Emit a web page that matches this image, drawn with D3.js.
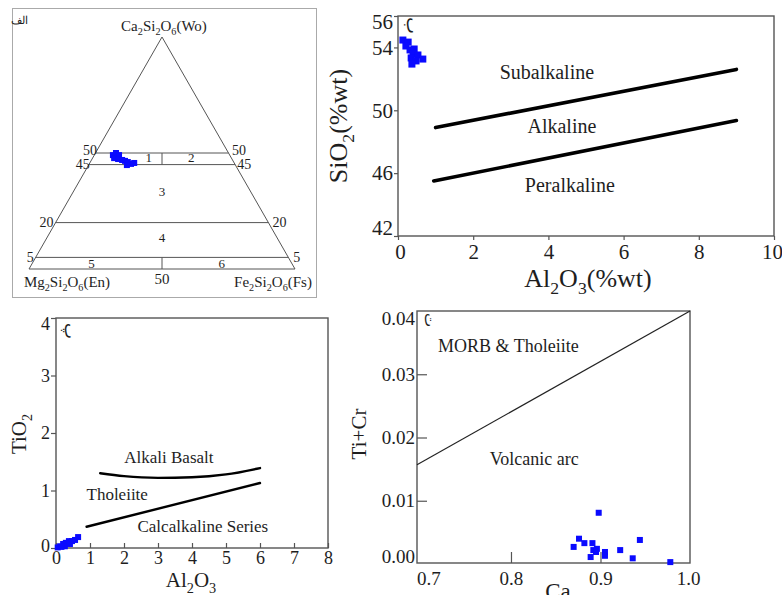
<!DOCTYPE html>
<html><head><meta charset="utf-8">
<script src="https://cdn.jsdelivr.net/npm/d3@7"></script>
<style>
body{margin:0;background:#fff}
svg{display:block}
text{font-family:"Liberation Serif","Times New Roman",serif;fill:#1e1e1e}
</style>
</head><body>
<svg id="c" width="782" height="595"></svg>
<script>
// ---------- DATA ----------
// Panel A: pyroxene ternary (Wo, En, Fs in %)
const ternWo = [49.1, 50.0, 49.1, 47.8, 47.4, 47.0, 46.6, 46.1, 45.3, 45.7, 44.8];
const ternFs = [7.0, 7.7, 9.3, 8.1, 9.8, 11.5, 12.8, 14.1, 15.7, 16.7, 14.4];
const ternEn = ternWo.map((w, i) => 100 - w - ternFs[i]);
const ternLevels = [50, 45, 20, 5];
const ternRegions = ["1", "2", "3", "4", "5", "6"];

// Panel B: SiO2 vs Al2O3
const bAl = [0.13, 0.27, 0.21, 0.32, 0.43, 0.40, 0.53, 0.35, 0.48, 0.66, 0.37];
const bSi = [54.47, 54.34, 54.09, 53.84, 53.90, 53.58, 53.52, 53.33, 53.14, 53.26, 52.94];
const bLineUpper = [[1.0, 48.9], [9.0, 52.6]];
const bLineLower = [[0.95, 45.5], [9.0, 49.35]];
const bXTicks = [0, 2, 4, 6, 8, 10];
const bYTicks = [42, 46, 50, 54, 56];
const bLabels = ["Subalkaline", "Alkaline", "Peralkaline"];

// Panel C: TiO2 vs Al2O3
const cAl = [0.12, 0.21, 0.29, 0.38, 0.47, 0.56, 0.65, 0.26, 0.41, 0.05, 0.16];
const cTi = [0.03, 0.07, 0.09, 0.12, 0.12, 0.14, 0.19, 0.03, 0.07, 0.01, 0.02];
const cCurveAlk = [[1.3, 1.3], [2.0, 1.25], [3.0, 1.22], [4.0, 1.23], [5.0, 1.28], [6.0, 1.39]];
const cLineCalc = [[0.9, 0.37], [6.0, 1.13]];
const cXTicks = [0, 1, 2, 3, 4, 5, 6, 7, 8];
const cYTicks = [0, 1, 2, 3, 4];
const cLabels = ["Alkali Basalt", "Tholeiite", "Calcalkaline Series"];

// Panel D: Ti+Cr vs Ca
const dCa = [0.870, 0.876, 0.882, 0.891, 0.892, 0.889, 0.896, 0.898, 0.905, 0.905, 0.922, 0.936, 0.944, 0.978, 0.895];
const dTiCr = [0.0027, 0.0040, 0.0033, 0.0033, 0.0022, 0.0011, 0.0024, 0.0081, 0.0019, 0.0013, 0.0022, 0.0009, 0.0038, 0.0003, 0.0019];
const dLine = [[0.695, 0.0157], [1.0, 0.04]];
const dXTicks = [0.7, 0.8, 0.9, 1.0];
const dYTicks = [0, 0.01, 0.02, 0.03, 0.04];
const dLabels = ["MORB & Tholeiite", "Volcanic arc"];

// ---------- HELPERS ----------
const svg = d3.select("#c");
const BLUE = "#0a0aff";
const FRAME = "#555";

function rich(g, str, x, y, size, anchor, rotate) {
  const t = g.append("text").attr("font-size", size).attr("text-anchor", anchor || "middle");
  if (rotate) t.attr("transform", `translate(${x},${y}) rotate(${rotate})`);
  else t.attr("x", x).attr("y", y);
  const parts = str.split(/(\{[^}]*\})/).filter(s => s.length);
  let shifted = false;
  const off = size * 0.28;
  parts.forEach(p => {
    if (p[0] === "{") {
      t.append("tspan").text(p.slice(1, -1)).attr("font-size", size * 0.68).attr("dy", shifted ? 0 : off);
      shifted = true;
    } else {
      t.append("tspan").text(p).attr("dy", shifted ? -off : 0);
      shifted = false;
    }
  });
  return t;
}
function styleAxis(g, size) {
  g.select(".domain").remove();
  g.selectAll(".tick line").attr("stroke", FRAME).attr("stroke-width", 1.2);
  g.selectAll(".tick text").attr("font-size", size).attr("fill", "#1e1e1e")
    .attr("font-family", '"Liberation Serif","Times New Roman",serif');
}

// ---------- PANEL A (ternary) ----------
(function () {
  const g = svg.append("g");
  g.append("rect").attr("x", 12.5).attr("y", 8.5).attr("width", 304).attr("height", 289)
    .attr("fill", "none").attr("stroke", "#aaa").attr("stroke-width", 1);
  const tx = d3.scaleLinear().domain([0, 100]).range([29, 295]);
  const ty = d3.scaleLinear().domain([0, 100]).range([269, 37]);
  const P = (wo, fs) => [tx(fs + wo / 2), ty(wo)];
  const line = d3.line();
  g.append("path").attr("d", line([P(100, 0), P(0, 0), P(0, 100), P(100, 0)]))
    .attr("fill", "none").attr("stroke", "#555").attr("stroke-width", 1);
  // label offsets per level: [left dx, right dx, dy]
  const off = {50: [1.5, 3.5, 1.5], 45: [1, 2, 4.5], 20: [-2, 4, 4.5], 5: [-2, 5, 5]};
  ternLevels.forEach(w => {
    const a = P(w, 0), b = P(w, 100 - w);
    const o = off[w];
    g.append("path").attr("d", line([a, b])).attr("stroke", "#555").attr("stroke-width", 1);
    g.append("text").attr("x", a[0] + o[0]).attr("y", a[1] + o[2]).attr("text-anchor", "end").attr("font-size", 14).text(w);
    g.append("text").attr("x", b[0] + o[1]).attr("y", b[1] + o[2]).attr("text-anchor", "start").attr("font-size", 14).text(w);
  });
  // vertical dividers at Fs = En
  g.append("path").attr("d", line([[tx(50), ty(50)], [tx(50), ty(45)]])).attr("stroke", "#555");
  g.append("path").attr("d", line([[tx(50), ty(5)], [tx(50), ty(0)]])).attr("stroke", "#555");
  const regPos = [[tx(45), ty(46.3)], [tx(61), ty(46.3)], [tx(50), ty(31.5)], [tx(50), ty(11.5)], [tx(23.5), ty(0)], [tx(72.5), ty(0)]];
  ternRegions.forEach((r, i) => {
    g.append("text").attr("x", regPos[i][0]).attr("y", regPos[i][1]).attr("text-anchor", "middle")
      .attr("font-size", 13).attr("dy", i >= 4 ? -1 : 0).text(r);
  });
  g.append("text").attr("x", tx(50)).attr("y", 284).attr("text-anchor", "middle").attr("font-size", 15).text("50");
  rich(g, "Ca{2}Si{2}O{6}(Wo)", 164, 31, 15, "middle");
  rich(g, "Mg{2}Si{2}O{6}(En)", 67, 287, 15, "middle");
  rich(g, "Fe{2}Si{2}O{6}(Fs)", 273, 287, 15, "middle");
  g.append("text").attr("x", 28).attr("y", 24).attr("text-anchor", "end").attr("font-size", 11)
    .attr("font-family", "DejaVu Sans").text("الف");
  g.selectAll("rect.pt").data(ternWo).join("rect").attr("class", "pt")
    .attr("x", (d, i) => P(d, ternFs[i])[0] - 3).attr("y", (d, i) => P(d, ternFs[i])[1] - 3)
    .attr("width", 6).attr("height", 6).attr("fill", BLUE);
})();

// ---------- PANEL B ----------
(function () {
  const g = svg.append("g");
  const x = d3.scaleLinear().domain([0, 10]).range([398, 774]);
  const y = d3.scaleLinear().domain([42, 56]).range([236, 16]);
  const ax = g.append("g").attr("transform", "translate(0,236)")
    .call(d3.axisBottom(x).tickValues(bXTicks).tickSize(4).tickPadding(4).tickFormat(d3.format("d")));
  styleAxis(ax, 21);
  ax.selectAll(".tick text").attr("dx", d => d === 10 ? -2 : d === 0 ? 2 : 0);
  const ay = g.append("g").attr("transform", "translate(398,0)")
    .call(d3.axisLeft(y).tickValues(bYTicks).tickSize(4).tickPadding(1).tickFormat(d3.format("d")));
  styleAxis(ay, 21);
  ay.selectAll(".tick text").attr("dy", d => d === 56 ? "0.6em" : d === 42 ? "-0.05em" : "0.32em");
  g.append("rect").attr("x", 398).attr("y", 16).attr("width", 376).attr("height", 220)
    .attr("fill", "none").attr("stroke", FRAME).attr("stroke-width", 1.4);
  const ln = d3.line().x(d => x(d[0])).y(d => y(d[1]));
  [bLineUpper, bLineLower].forEach(L => g.append("path").attr("d", ln(L)).attr("fill", "none")
    .attr("stroke", "#000").attr("stroke-width", 3.6).attr("stroke-linecap", "round"));
  const lp = [[3.96, 52.0], [4.36, 48.55], [4.57, 44.8]];
  bLabels.forEach((t, i) => g.append("text").attr("x", x(lp[i][0])).attr("y", y(lp[i][1]))
    .attr("text-anchor", "middle").attr("font-size", 20).text(t));
  g.selectAll("rect.pt").data(bAl).join("rect").attr("class", "pt")
    .attr("x", (d) => x(d) - 3.5).attr("y", (d, i) => y(bSi[i]) - 3.5)
    .attr("width", 7).attr("height", 7).attr("fill", BLUE);
  rich(g, "SiO{2}(%wt)", 347, 126, 26, "middle", -90);
  rich(g, "Al{2}O{3}(%wt)", 588, 287, 26, "middle");
  g.append("text").attr("transform", "translate(407,25) rotate(90)").attr("text-anchor", "middle")
    .attr("font-size", 18).attr("font-family", "DejaVu Sans").text("ب");
})();

// ---------- PANEL C ----------
(function () {
  const g = svg.append("g");
  const x = d3.scaleLinear().domain([0, 8]).range([56, 328]);
  const y = d3.scaleLinear().domain([0, 4]).range([548, 318]);
  const ax = g.append("g").attr("transform", "translate(0,548)")
    .call(d3.axisBottom(x).tickValues(cXTicks).tickSize(-5).tickPadding(3).tickFormat(d3.format("d")));
  styleAxis(ax, 18);
  const ay = g.append("g").attr("transform", "translate(56,0)")
    .call(d3.axisLeft(y).tickValues(cYTicks).tickSize(5).tickPadding(1).tickFormat(d3.format("d")));
  styleAxis(ay, 18);
  ay.selectAll(".tick text").attr("dy", d => d === 4 ? "0.62em" : d === 0 ? "0.18em" : "0.32em");
  g.append("rect").attr("x", 56).attr("y", 318).attr("width", 272).attr("height", 230)
    .attr("fill", "none").attr("stroke", FRAME).attr("stroke-width", 1.4);
  const ln = d3.line().x(d => x(d[0])).y(d => y(d[1]));
  g.append("path").attr("d", ln.curve(d3.curveMonotoneX)(cCurveAlk)).attr("fill", "none")
    .attr("stroke", "#000").attr("stroke-width", 2.4).attr("stroke-linecap", "round");
  g.append("path").attr("d", d3.line().x(d => x(d[0])).y(d => y(d[1]))(cLineCalc)).attr("fill", "none")
    .attr("stroke", "#000").attr("stroke-width", 2.4).attr("stroke-linecap", "round");
  const lp = [[3.32, 1.47], [1.8, 0.83], [4.32, 0.28]];
  cLabels.forEach((t, i) => g.append("text").attr("x", x(lp[i][0])).attr("y", y(lp[i][1]))
    .attr("text-anchor", "middle").attr("font-size", 17).text(t));
  g.selectAll("rect.pt").data(cAl).join("rect").attr("class", "pt")
    .attr("x", d => x(d) - 3).attr("y", (d, i) => y(cTi[i]) - 3)
    .attr("width", 6).attr("height", 6).attr("fill", BLUE);
  rich(g, "TiO{2}", 26, 434, 21, "middle", -90);
  rich(g, "Al{2}O{3}", 191, 587, 21, "middle");
  g.append("text").attr("transform", "translate(65,331) rotate(90)").attr("text-anchor", "middle")
    .attr("font-size", 17).attr("font-family", "DejaVu Sans").text("پ");
})();

// ---------- PANEL D ----------
(function () {
  const g = svg.append("g");
  const x = d3.scaleLinear().domain([0.695, 1.0]).range([417, 690]);
  const y = d3.scaleLinear().domain([0, 0.04]).range([564, 311]);
  const ax = g.append("g").attr("transform", "translate(0,563)")
    .call(d3.axisBottom(x).tickValues(dXTicks).tickSize(-11).tickPadding(9).tickFormat(d3.format(".1f")));
  styleAxis(ax, 19);
  ax.selectAll(".tick").filter(d => d === 0.7 || d === 1.0).select("line").remove();
  ax.selectAll(".tick text").attr("dx", d => d === 0.7 ? 7 : d === 1.0 ? -2 : 0);
  const ay = g.append("g").attr("transform", "translate(417,0)")
    .call(d3.axisLeft(y).tickValues(dYTicks).tickSize(-10).tickPadding(2).tickFormat(d3.format(".2f")));
  styleAxis(ay, 19);
  ay.selectAll(".tick").filter(d => d === 0 || d === 0.04).select("line").remove();
  ay.selectAll(".tick text").attr("dy", d => d === 0.04 ? "0.72em" : d === 0 ? "-0.1em" : "0.32em");
  g.append("rect").attr("x", 417).attr("y", 311).attr("width", 273).attr("height", 252)
    .attr("fill", "none").attr("stroke", FRAME).attr("stroke-width", 1.4);
  g.append("path").attr("d", d3.line().x(d => x(d[0])).y(d => y(d[1]))(dLine)).attr("fill", "none")
    .attr("stroke", "#222").attr("stroke-width", 1.2);
  const lp = [[0.797, 0.0335], [0.826, 0.0156]];
  dLabels.forEach((t, i) => g.append("text").attr("x", x(lp[i][0])).attr("y", y(lp[i][1]))
    .attr("text-anchor", "middle").attr("font-size", 18).text(t));
  g.selectAll("rect.pt").data(dCa).join("rect").attr("class", "pt")
    .attr("x", d => x(d) - 3).attr("y", (d, i) => y(dTiCr[i]) - 3)
    .attr("width", 6).attr("height", 6).attr("fill", BLUE);
  rich(g, "Ti+Cr", 366, 434, 21, "middle", -90);
  rich(g, "Ca", 558, 599, 23, "middle");
  g.append("text").attr("transform", "translate(425,320) rotate(90)").attr("text-anchor", "middle")
    .attr("font-size", 15).attr("font-family", "DejaVu Sans").text("ت");
})();
</script>
</body></html>
